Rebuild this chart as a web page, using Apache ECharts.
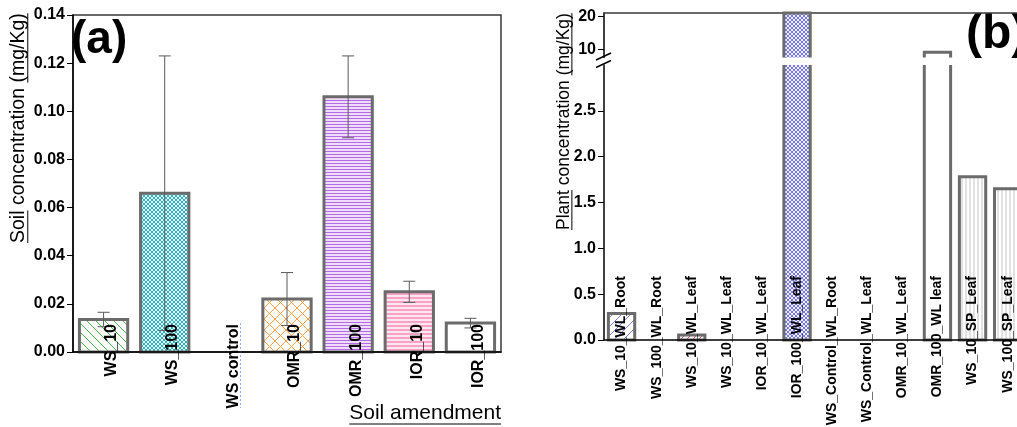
<!DOCTYPE html>
<html><head><meta charset="utf-8">
<script src="https://cdn.jsdelivr.net/npm/echarts@6/dist/echarts.min.js"></script>
<style>html,body{margin:0;padding:0;background:#fff}#c{width:1017px;height:427px}</style>
</head><body><div id="c"></div>
<script>
// ---------------- data ----------------
const soilCategories = ['WS_10', 'WS_100', 'WS control', 'OMR_10', 'OMR_100', 'IOR_10', 'IOR_100'];
const soilMeans  = [0.0135, 0.066, 0, 0.022, 0.106, 0.025, 0.012];
const soilErrors = [0.003, 0.057, 0, 0.011, 0.017, 0.0044, 0.002];

const plantCategories = ['WS_10_WL_Root', 'WS_100_WL_Root', 'WS_10_WL_Leaf', 'WS_10_WL_Leaf',
  'IOR_10_WL_Leaf', 'IOR_100_WL_Leaf', 'WS_Control_WL_Root', 'WS_Control_WL_Leaf',
  'OMR_10_WL_Leaf', 'OMR_100_WL leaf', 'WS_10_SP_Leaf', 'WS_100_SP_Leaf'];
const plantValues = [0.29, 0, 0.055, 0, 0, 21, 0, 0, 0, 9.1, 1.78, 1.65];
const plantLowTicks = [0, 0.5, 1.0, 1.5, 2.0, 2.5];
const plantHighTicks = [10, 20];

// ---------------- styles ----------------
const FONT = "'Liberation Sans', Arial, sans-serif";
const BORDER = '#6b6b6b';

function pattern(kind, color, size, bg, lw) {
  const c = document.createElement('canvas');
  c.width = c.height = size;
  const g = c.getContext('2d');
  g.fillStyle = bg || '#ffffff';
  g.fillRect(0, 0, size, size);
  g.strokeStyle = color;
  g.lineWidth = lw || 1;
  g.beginPath();
  const s = size;
  if (kind === 'back' || kind === 'cross') {
    for (let k = -1; k <= 1; k++) { g.moveTo(k * s, 0); g.lineTo(k * s + s, s); }
  }
  if (kind === 'fwd' || kind === 'cross') {
    for (let k = -1; k <= 1; k++) { g.moveTo(k * s, s); g.lineTo(k * s + s, 0); }
  }
  if (kind === 'horiz') { g.moveTo(0, s / 2); g.lineTo(s, s / 2); }
  if (kind === 'vert') { g.moveTo(s / 2, 0); g.lineTo(s / 2, s); }
  g.stroke();
  return { image: c, repeat: 'repeat' };
}

const soilFills = [
  pattern('back', '#4fb04f', 9),
  pattern('cross', '#2fb3bf', 4, '#e4f6f7'),
  '#ffffff',
  pattern('cross', '#f7a04a', 11),
  pattern('horiz', '#b36be6', 3, '#f0dcfb'),
  pattern('horiz', '#f2609a', 4, '#fde6ef'),
  '#ffffff'
];
const plantFills = [
  pattern('fwd', '#7b7bd8', 9),
  '#ffffff',
  pattern('fwd', '#c0504d', 6),
  '#ffffff', '#ffffff',
  pattern('cross', '#7878dc', 4, '#f0f0fd'),
  '#ffffff', '#ffffff', '#ffffff', '#ffffff',
  pattern('vert', '#c4c4c4', 4),
  pattern('vert', '#c4c4c4', 4)
];

// ---------------- layout ----------------
const GA = { left: 73, top: 15, width: 428, height: 337 };
const B_LEFT = 604, B_BAND = 35.1;
const GBU = { top: 13, height: 44.5 };
const GBL = { top: 65, height: 275 };

// ---------------- renderers ----------------
function makeBarRenderer(fills, ratio, bwid) {
  return function (params, api) {
    const i = api.value(0), v = api.value(1);
    if (!(v > 0)) return null;
    const cs = params.coordSys;
    const pTop = api.coord([i, v]), pBase = api.coord([i, 0]);
    const bw = api.size([1, 0])[0] * ratio;
    const x0 = pTop[0] - bw / 2, x1 = pTop[0] + bw / 2;
    const gTop = cs.y, gBot = cs.y + cs.height;
    const topCut = pTop[1] < gTop - 0.01;
    const baseCut = pBase[1] > gBot + 0.01;
    const yT = Math.max(pTop[1], gTop), yB = Math.min(pBase[1], gBot);
    if (yB - yT <= 0) return null;
    const border = { stroke: BORDER, lineWidth: bwid, fill: null };
    const children = [{ type: 'rect', shape: { x: x0, y: yT, width: bw, height: yB - yT }, style: { fill: fills[i] || '#fff' } }];
    if (!topCut && !baseCut) {
      children.push({ type: 'rect', shape: { x: x0, y: yT, width: bw, height: yB - yT }, style: border });
    } else if (topCut && !baseCut) {
      children.push({ type: 'polyline', shape: { points: [[x0, yT], [x0, yB], [x1, yB], [x1, yT]] }, style: border });
    } else if (!topCut && baseCut) {
      children.push({ type: 'polyline', shape: { points: [[x0, yB], [x0, yT], [x1, yT], [x1, yB]] }, style: border });
    } else {
      children.push({ type: 'line', shape: { x1: x0, y1: yT, x2: x0, y2: yB }, style: border });
      children.push({ type: 'line', shape: { x1: x1, y1: yT, x2: x1, y2: yB }, style: border });
    }
    return { type: 'group', children };
  };
}

function errRenderer(params, api) {
  const i = api.value(0), m = api.value(1), e = api.value(2);
  if (!(e > 0)) return null;
  const hi = api.coord([i, m + e]), lo = api.coord([i, m - e]);
  const cap = 6;
  const st = { stroke: '#5a5a5a', lineWidth: 1 };
  return { type: 'group', children: [
    { type: 'line', shape: { x1: hi[0], y1: hi[1], x2: lo[0], y2: lo[1] }, style: st },
    { type: 'line', shape: { x1: hi[0] - cap, y1: hi[1], x2: hi[0] + cap, y2: hi[1] }, style: st },
    { type: 'line', shape: { x1: lo[0] - cap, y1: lo[1], x2: lo[0] + cap, y2: lo[1] }, style: st }
  ] };
}

// ---------------- text helpers ----------------
const mctx = document.createElement('canvas').getContext('2d');
function tw(text, size, weight) {
  mctx.font = (weight || 'normal') + ' ' + size + 'px ' + FONT;
  return mctx.measureText(text).width;
}

function vTitle(text, size, cx, yStart, underlined) {
  const els = [{
    type: 'text', x: cx, y: yStart, rotation: Math.PI / 2, silent: true,
    style: { text, fontSize: size, fontFamily: FONT, fill: '#000', align: 'left', verticalAlign: 'middle' }
  }];
  const ux = cx + size * 0.45;
  underlined.forEach(seg => {
    const idx = text.indexOf(seg);
    const a = yStart - tw(text.slice(0, idx), size);
    const b = a - tw(seg, size);
    els.push({ type: 'line', silent: true, shape: { x1: ux, y1: a, x2: ux, y2: b }, style: { stroke: '#000', lineWidth: 1 } });
  });
  return els;
}

const graphics = [];
graphics.push(...vTitle('Soil concentration (mg/Kg)', 19.5, 19, 243, ['Soil', '(mg/Kg)']));
graphics.push(...vTitle('Plant concentration (mg/Kg)', 17.5, 564, 230, ['Plant', '(mg/Kg)']));
// x-axis title of (a)
const xTitle = 'Soil amendment', xTitleSize = 21;
const xRight = GA.left + GA.width;
graphics.push({ type: 'text', x: xRight, y: 413.7, silent: true,
  style: { text: xTitle, fontSize: xTitleSize, fontFamily: FONT, fill: '#000', align: 'right', verticalAlign: 'middle' } });
graphics.push({ type: 'line', silent: true, shape: { x1: xRight - tw(xTitle, xTitleSize), y1: 424, x2: xRight, y2: 424 }, style: { stroke: '#000', lineWidth: 1 } });
// panel letters
graphics.push({ type: 'text', x: 71, y: 40.5, silent: true,
  style: { text: '(a)', fontSize: 46, fontWeight: 'bold', fontFamily: FONT, fill: '#000', align: 'left', verticalAlign: 'middle' } });
graphics.push({ type: 'text', x: 966, y: 34.5, silent: true,
  style: { text: '(b)', fontSize: 48, fontWeight: 'bold', fontFamily: FONT, fill: '#000', align: 'left', verticalAlign: 'middle' } });
// axis break marks
const brk1 = GBU.top + GBU.height - 1, brk2 = GBL.top - 1;
[brk1, brk2].forEach(yc => graphics.push({ type: 'line', silent: true,
  shape: { x1: B_LEFT - 8, y1: yc + 3.5, x2: B_LEFT + 7, y2: yc - 3.5 }, style: { stroke: '#000', lineWidth: 1.5 } }));
// faint dotted line in the original
graphics.push({ type: 'line', silent: true, shape: { x1: 240.5, y1: 323, x2: 240.5, y2: 408 }, style: { stroke: '#8fb0e0', lineWidth: 1, lineDash: [2, 2] } });

const axisLineBlack = { show: true, lineStyle: { color: '#000', width: 1.5 } };
const yLabel = (size, fmt) => ({ margin: 8, fontWeight: 'bold', fontSize: size, color: '#000', fontFamily: FONT, formatter: fmt });

const option = {
  animation: false,
  textStyle: { fontFamily: FONT },
  grid: [
    { left: GA.left, top: GA.top, width: GA.width, height: GA.height, show: true, borderColor: '#3a3a3a', borderWidth: 1.5, outerBoundsMode: 'none', containLabel: false },
    { left: B_LEFT, top: GBU.top, width: B_BAND * plantCategories.length, height: GBU.height, outerBoundsMode: 'none', containLabel: false },
    { left: B_LEFT, top: GBL.top, width: B_BAND * plantCategories.length, height: GBL.height, outerBoundsMode: 'none', containLabel: false }
  ],
  xAxis: [
    { gridIndex: 0, type: 'category', data: soilCategories, z: 5, axisLine: axisLineBlack, axisTick: { show: false },
      axisLabel: { interval: 0, rotate: 90, margin: -28, verticalAlign: 'top', color: '#000', fontWeight: 'bold', fontSize: 16, fontFamily: FONT },
      splitLine: { show: false } },
    { gridIndex: 1, type: 'category', data: plantCategories, position: 'top',
      axisLine: { show: true, lineStyle: { color: '#3a3a3a', width: 1.5 } }, axisTick: { show: false }, axisLabel: { show: false } },
    { gridIndex: 2, type: 'category', data: plantCategories, z: 5, axisLine: axisLineBlack, axisTick: { show: false },
      axisLabel: { interval: 0, rotate: 90, margin: -64, color: '#000', fontWeight: 'bold', fontSize: 14, fontFamily: FONT } }
  ],
  yAxis: [
    { gridIndex: 0, type: 'value', min: 0, max: 0.14, interval: 0.02, axisLine: axisLineBlack,
      axisTick: { show: true, length: 6, lineStyle: { color: '#000' } },
      axisLabel: yLabel(16, v => v.toFixed(2)), splitLine: { show: false } },
    { gridIndex: 1, type: 'value', min: 7.5, max: 21, axisLine: axisLineBlack,
      axisTick: { show: true, length: 6, customValues: plantHighTicks, lineStyle: { color: '#000' } },
      axisLabel: Object.assign(yLabel(16, v => String(v)), { customValues: plantHighTicks }), splitLine: { show: false } },
    { gridIndex: 2, type: 'value', min: 0, max: 3, axisLine: axisLineBlack,
      axisTick: { show: true, length: 6, customValues: plantLowTicks, lineStyle: { color: '#000' } },
      axisLabel: Object.assign(yLabel(16, v => v.toFixed(1)), { customValues: plantLowTicks }), splitLine: { show: false } }
  ],
  series: [
    { type: 'custom', xAxisIndex: 0, yAxisIndex: 0, z: 2, renderItem: makeBarRenderer(soilFills, 0.79, 3),
      data: soilMeans.map((v, i) => [i, v]) },
    { type: 'custom', xAxisIndex: 0, yAxisIndex: 0, z: 3, renderItem: errRenderer,
      data: soilMeans.map((v, i) => [i, v, soilErrors[i]]) },
    { type: 'custom', xAxisIndex: 1, yAxisIndex: 1, z: 2, renderItem: makeBarRenderer(plantFills, 0.75, 3),
      data: plantValues.map((v, i) => [i, v]) },
    { type: 'custom', xAxisIndex: 2, yAxisIndex: 2, z: 2, renderItem: makeBarRenderer(plantFills, 0.75, 3),
      data: plantValues.map((v, i) => [i, v]) }
  ],
  graphic: { elements: graphics }
};

const chart = echarts.init(document.getElementById('c'), null, { renderer: 'canvas' });
chart.setOption(option);
</script>
</body></html>
